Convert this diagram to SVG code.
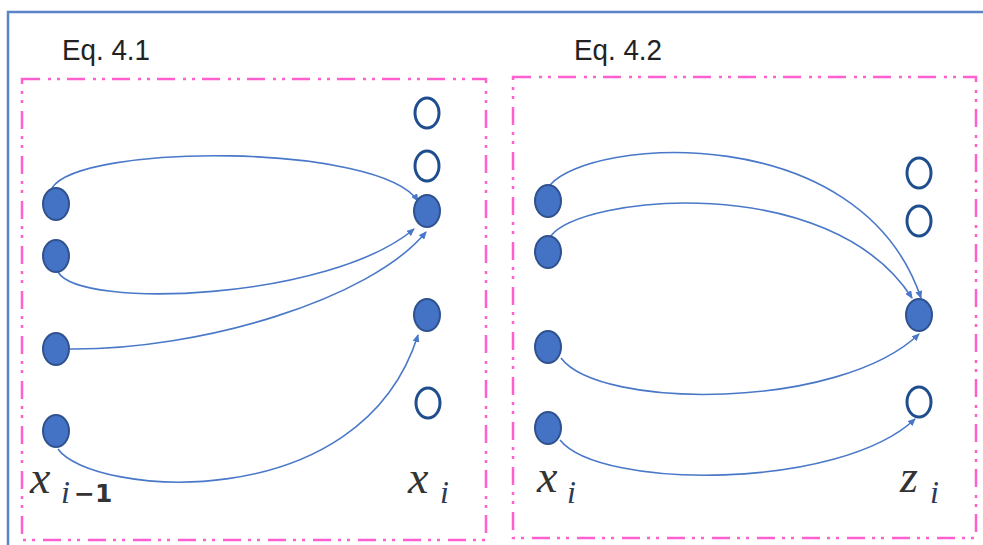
<svg xmlns="http://www.w3.org/2000/svg" width="983" height="545" viewBox="0 0 983 545">
<style>
.frame{fill:none;stroke:#5b84c8;stroke-width:2.5}
.box{fill:none;stroke:#ff5fcf;stroke-width:2.5;stroke-dasharray:18 8 3 6 3 7}
.full{fill:#4472c4;stroke:#2f528f;stroke-width:2}
.hollow{fill:#fff;stroke:#1f4e8f;stroke-width:3}
.edge{fill:none;stroke:#4a78c8;stroke-width:1.6;marker-end:url(#arr)}
.eq{font-family:"Liberation Sans",Arial,sans-serif;font-size:30px;fill:#222}
.var{font-family:"Liberation Serif","Times New Roman",serif;font-style:italic;font-size:46px;fill:#333}
.sub{font-family:"Liberation Serif","Times New Roman",serif;font-style:italic;font-size:32px;fill:#2a3a5a}
.num{font-family:"DejaVu Sans",sans-serif;font-weight:bold;font-size:25px;fill:#333}
</style>
<defs>
<marker id="arr" markerWidth="8" markerHeight="7" refX="7" refY="3.5" orient="auto" markerUnits="userSpaceOnUse">
<path d="M0,0 L8,3.5 L0,7 z" fill="#4a78c8"/>
</marker>
</defs>
<g id="frame">
<path class="frame" d="M8,545 L8,12 L983,12"/>
</g>
<g id="panel1">
<rect class="box" x="22" y="79" width="464" height="461"/>
<text class="eq" x="62" y="60" textLength="88" lengthAdjust="spacingAndGlyphs">Eq. 4.1</text>
</g>
<g id="panel2">
<rect class="box" x="513" y="77" width="463" height="461"/>
<text class="eq" x="574" y="60" textLength="88" lengthAdjust="spacingAndGlyphs">Eq. 4.2</text>
</g>
<g id="connectors">
<path class="edge" d="M52,188 C80,143 380,143 418,201"/>
<path class="edge" d="M58,272 C80,310 330,300 414,229"/>
<path class="edge" d="M70,349 C200,350 370,300 426,232"/>
<path class="edge" d="M58,449 C90,495 360,520 418,335"/>
<path class="edge" d="M550,185 C590,138 860,118 921,298"/>
<path class="edge" d="M550,237 C580,195 830,170 912,298"/>
<path class="edge" d="M561,358 C600,410 840,410 919,334"/>
<path class="edge" d="M560,440 C600,490 840,490 915,419"/>
</g>
<g id="n1a"><ellipse class="full" cx="56" cy="204" rx="13" ry="16"/></g>
<g id="n1b"><ellipse class="full" cx="56" cy="256" rx="13" ry="16"/></g>
<g id="n1c"><ellipse class="full" cx="56" cy="349" rx="13" ry="16"/></g>
<g id="n1d"><ellipse class="full" cx="56" cy="431" rx="13" ry="16"/></g>
<g id="n1e"><ellipse class="hollow" cx="427" cy="113" rx="12" ry="15"/></g>
<g id="n1f"><ellipse class="hollow" cx="427" cy="166" rx="12" ry="15"/></g>
<g id="n1g"><ellipse class="full" cx="427" cy="211" rx="13" ry="16"/></g>
<g id="n1h"><ellipse class="full" cx="427" cy="315" rx="13" ry="16"/></g>
<g id="n1i"><ellipse class="hollow" cx="428" cy="403" rx="12" ry="15"/></g>
<g id="n2a"><ellipse class="full" cx="548" cy="201" rx="13" ry="16"/></g>
<g id="n2b"><ellipse class="full" cx="548" cy="252" rx="13" ry="16"/></g>
<g id="n2c"><ellipse class="full" cx="548" cy="347" rx="13" ry="16"/></g>
<g id="n2d"><ellipse class="full" cx="548" cy="428" rx="13" ry="16"/></g>
<g id="n2e"><ellipse class="hollow" cx="919" cy="173" rx="12" ry="15"/></g>
<g id="n2f"><ellipse class="hollow" cx="919" cy="221" rx="12" ry="15"/></g>
<g id="n2g"><ellipse class="full" cx="919" cy="315" rx="13" ry="16"/></g>
<g id="n2h"><ellipse class="hollow" cx="919" cy="402" rx="12" ry="15"/></g>
<g id="labels">
<text class="var" x="30" y="493">x</text><text class="sub" x="61" y="503">i</text><text class="num" x="74" y="502">−1</text>
<text class="var" x="408" y="493">x</text><text class="sub" x="440" y="503">i</text>
<text class="var" x="537" y="492">x</text><text class="sub" x="567" y="503">i</text>
<text class="var" x="900" y="492">z</text><text class="sub" x="930" y="503">i</text>
</g>
</svg>
